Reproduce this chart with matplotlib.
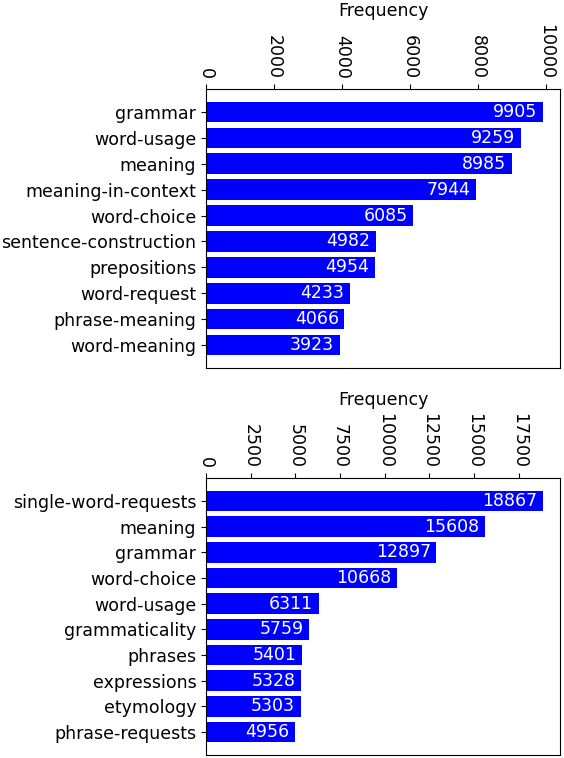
import matplotlib

matplotlib.use("Agg")

import matplotlib.pyplot as plt
from matplotlib.ticker import MultipleLocator

# top panel: tag frequencies (first site)
tags_top = ["grammar", "word-usage", "meaning", "meaning-in-context", "word-choice",
            "sentence-construction", "prepositions", "word-request", "phrase-meaning",
            "word-meaning"]
freq_top = [9905, 9259, 8985, 7944, 6085, 4982, 4954, 4233, 4066, 3923]

# bottom panel: tag frequencies (second site)
tags_bottom = ["single-word-requests", "meaning", "grammar", "word-choice", "word-usage",
               "grammaticality", "phrases", "expressions", "etymology", "phrase-requests"]
freq_bottom = [18867, 15608, 12897, 10668, 6311, 5759, 5401, 5328, 5303, 4956]

FS = 12.5

fig = plt.figure(figsize=(5.64, 7.58), dpi=100)
ax_top = fig.add_axes([0.3652, 0.5145, 0.6277, 0.3681])
ax_bot = fig.add_axes([0.3652, 0.0040, 0.6277, 0.3654])


def draw_panel(ax, tags, freqs, step):
    ypos = list(range(len(tags)))
    ax.barh(ypos, freqs, color="#0000ff")
    ax.set_yticks(ypos)
    ax.set_yticklabels(tags, fontsize=FS)
    ax.invert_yaxis()
    ax.xaxis.tick_top()
    ax.xaxis.set_label_position("top")
    ax.xaxis.set_major_locator(MultipleLocator(step))
    ax.set_xlabel("Frequency", fontsize=FS, labelpad=6)
    ax.tick_params(axis="x", labelsize=FS, labelrotation=-90)
    # value written inside the end of each bar
    for y, v in zip(ypos, freqs):
        ax.annotate(str(v), (v, y), xytext=(-4, 0), textcoords="offset points",
                    ha="right", va="center", color="white", fontsize=FS)


draw_panel(ax_top, tags_top, freq_top, 2000)
draw_panel(ax_bot, tags_bottom, freq_bottom, 2500)

fig.savefig("out.png", dpi=100)
plt.close(fig)
